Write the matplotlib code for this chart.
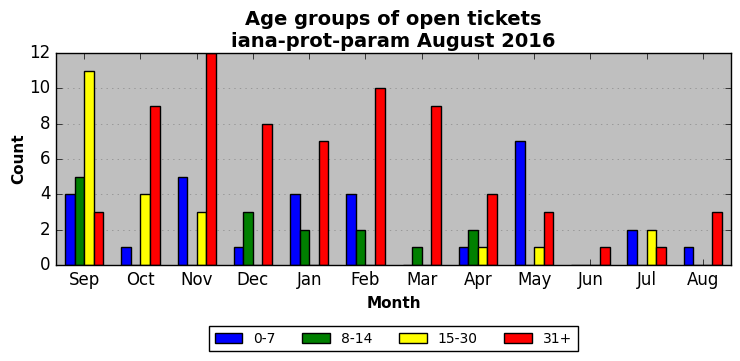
import numpy as np
import matplotlib
matplotlib.use('Agg')
import matplotlib.pyplot as plt

plt.style.use('classic')

months = ['Sep', 'Oct', 'Nov', 'Dec', 'Jan', 'Feb', 'Mar', 'Apr', 'May', 'Jun', 'Jul', 'Aug']
age_0_7 = [4, 1, 5, 1, 4, 4, 0, 1, 7, 0, 2, 1]
age_8_14 = [5, 0, 0, 3, 2, 2, 1, 2, 0, 0, 0, 0]
age_15_30 = [11, 4, 3, 0, 0, 0, 0, 1, 1, 0, 2, 0]
age_31 = [3, 9, 12, 8, 7, 10, 9, 4, 3, 1, 1, 3]

series = [('0-7', age_0_7, 'blue'), ('8-14', age_8_14, 'green'),
          ('15-30', age_15_30, 'yellow'), ('31+', age_31, 'red')]

fig = plt.figure(figsize=(7.4, 3.61), dpi=100, facecolor='white')
ax = fig.add_axes([56 / 740, 1 - 265 / 361, 675 / 740, 212 / 361])
ax.set_facecolor('#bfbfbf')

x = np.arange(len(months))
w = 0.17
for i, (name, vals, col) in enumerate(series):
    ax.bar(x + (i - 1.5) * w, vals, w, color=col, edgecolor='black',
           linewidth=1, label=name, align='center')

ax.set_xlim(-0.5, 11.5)
ax.set_ylim(0, 12)
ax.set_xticks(x)
ax.set_xticklabels(months, fontsize=12)
ax.set_yticks(range(0, 13, 2))
ax.tick_params(axis='y', labelsize=12)
ax.yaxis.grid(True, linestyle=':', color='#888888')
ax.set_axisbelow(True)

ax.set_xlabel('Month', fontsize=11, fontweight='bold')
ax.set_ylabel('Count', fontsize=11, fontweight='bold', labelpad=2)
ax.set_title('Age groups of open tickets\niana-prot-param August 2016',
             fontsize=14, fontweight='bold', y=0.995)

ax.legend(loc='upper center', bbox_to_anchor=(0.5, -0.255), ncol=4,
          fontsize=10, frameon=True, fancybox=False, handlelength=2,
          columnspacing=1.9, borderpad=0.4)

fig.savefig('out.png', dpi=100, facecolor='white')
